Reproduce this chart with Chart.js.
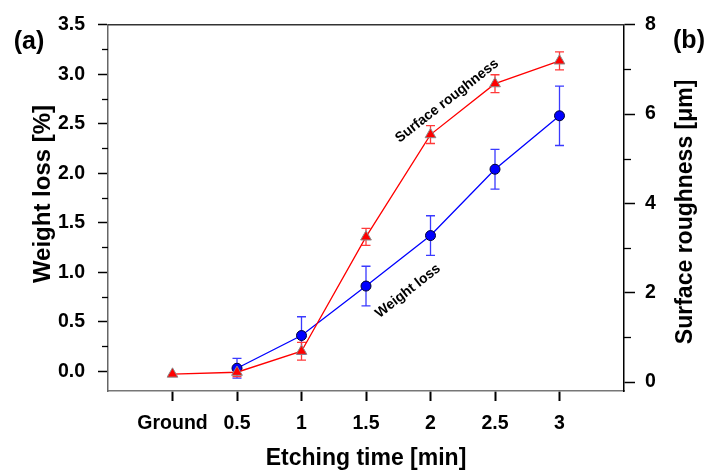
<!DOCTYPE html>
<html><head><meta charset="utf-8">
<script src="https://cdn.jsdelivr.net/npm/chart.js@4/dist/chart.umd.min.js"></script>
<style>html,body{margin:0;padding:0;background:#fff;}#wrap{width:707px;height:472px;}</style>
</head><body><div id="wrap"><canvas id="c" width="707" height="472"></canvas></div>
<script>
const categories = ['Ground', '0.5', '1', '1.5', '2', '2.5', '3'];
const weightLoss = [null, 0.03, 0.36, 0.86, 1.37, 2.04, 2.58];
const weightLossErr = [null, 0.10, 0.19, 0.20, 0.20, 0.20, 0.30];
const roughness = [0.18, 0.22, 0.69, 3.25, 5.54, 6.68, 7.19];
const roughnessErr = [0, 0.10, 0.20, 0.19, 0.20, 0.20, 0.20];
const leftTicks = [0, 0.5, 1, 1.5, 2, 2.5, 3, 3.5];
const leftMinorTicks = [0.25, 0.75, 1.25, 1.75, 2.25, 2.75, 3.25];
const rightTicks = [0, 2, 4, 6, 8];
const rightMinorTicks = [1, 3, 5, 7];

const FONT = '"Liberation Sans", Arial, sans-serif';
const tickFont = {family: FONT, size: 19.5, weight: 'bold'};

const toPoints = arr => arr.map((v, i) => ({x: i, y: v}));

const deco = {
  id: 'deco',
  beforeDatasetsDraw(chart) {
    const ctx = chart.ctx, xs = chart.scales.x;
    const drawErr = (vals, errs, scale, color) => {
      ctx.save();
      ctx.strokeStyle = color; ctx.lineWidth = 1.3;
      vals.forEach((v, i) => {
        if (v === null || !errs[i]) return;
        const px = xs.getPixelForValue(i);
        const top = scale.getPixelForValue(v + errs[i]);
        const bot = scale.getPixelForValue(v - errs[i]);
        ctx.beginPath();
        ctx.moveTo(px, top); ctx.lineTo(px, bot);
        ctx.moveTo(px - 4.5, top); ctx.lineTo(px + 4.5, top);
        ctx.moveTo(px - 4.5, bot); ctx.lineTo(px + 4.5, bot);
        ctx.stroke();
      });
      ctx.restore();
    };
    drawErr(weightLoss, weightLossErr, chart.scales.y, '#3a3aff');
    drawErr(roughness, roughnessErr, chart.scales.y2, '#ff3a3a');
  },
  afterDraw(chart) {
    const ctx = chart.ctx, a = chart.chartArea;
    const yl = chart.scales.y, yr = chart.scales.y2;
    ctx.save();
    ctx.strokeStyle = '#333'; ctx.lineWidth = 1.5;
    ctx.beginPath(); ctx.moveTo(a.left, a.top); ctx.lineTo(a.right, a.top); ctx.stroke();
    ctx.strokeStyle = '#000'; ctx.lineWidth = 1.3;
    leftMinorTicks.forEach(v => {
      const py = Math.round(yl.getPixelForValue(v)) + 0.5;
      ctx.beginPath(); ctx.moveTo(a.left - 6, py); ctx.lineTo(a.left, py); ctx.stroke();
    });
    rightMinorTicks.forEach(v => {
      const py = Math.round(yr.getPixelForValue(v)) + 0.5;
      ctx.beginPath(); ctx.moveTo(a.right, py); ctx.lineTo(a.right + 7, py); ctx.stroke();
    });
    ctx.fillStyle = '#000';
    ctx.textAlign = 'center'; ctx.textBaseline = 'middle';
    ctx.font = 'bold 23px ' + FONT;
    ctx.fillText('Etching time [min]', (a.left + a.right) / 2, 459);
    ctx.save(); ctx.translate(686, (a.top + a.bottom) / 2 + 4); ctx.rotate(-Math.PI / 2);
    ctx.fillText('Surface roughness [\u03bcm]', 0, 0); ctx.restore();
    ctx.font = 'bold 24px ' + FONT;
    ctx.save(); ctx.translate(43, 194); ctx.rotate(-Math.PI / 2);
    ctx.fillText('Weight loss [%]', 0, 0); ctx.restore();
    ctx.font = 'bold 25px ' + FONT;
    ctx.fillText('(a)', 29, 42);
    ctx.fillText('(b)', 689, 41);
    ctx.font = 'bold 14px ' + FONT;
    ctx.save(); ctx.translate(447, 101); ctx.rotate(-38 * Math.PI / 180);
    ctx.fillText('Surface roughness', 0, 0); ctx.restore();
    ctx.save(); ctx.translate(408, 291); ctx.rotate(-38 * Math.PI / 180);
    ctx.fillText('Weight loss', 0, 0); ctx.restore();
    ctx.restore();
  }
};

new Chart(document.getElementById('c'), {
  type: 'line',
  data: {
    datasets: [
      {
        label: 'Surface roughness', yAxisID: 'y2',
        data: toPoints(roughness),
        borderColor: '#ff0000', borderWidth: 1.3,
        pointStyle: 'triangle', pointRadius: 6.2,
        pointBackgroundColor: '#ff0000', pointBorderColor: '#8a8a8a', pointBorderWidth: 1,
        tension: 0, fill: false
      },
      {
        label: 'Weight loss', yAxisID: 'y',
        data: toPoints(weightLoss),
        borderColor: '#0000ff', borderWidth: 1.3,
        pointStyle: 'circle', pointRadius: 5,
        pointBackgroundColor: '#0000ff', pointBorderColor: '#000033', pointBorderWidth: 1,
        tension: 0, fill: false
      }
    ]
  },
  options: {
    responsive: false, animation: false, devicePixelRatio: 1,
    layout: {padding: {top: 23, left: 0, right: 0, bottom: 0}},
    plugins: {legend: {display: false}, tooltip: {enabled: false}},
    scales: {
      x: {
        type: 'linear', position: 'bottom', min: -1, max: 7,
        afterBuildTicks: s => { s.ticks = categories.map((_, i) => ({value: i})); },
        afterFit: s => { s.height = 81; },
        grid: {drawOnChartArea: false, drawTicks: true, tickLength: 10, tickWidth: 2, tickColor: '#000'},
        border: {color: '#777', width: 1.5},
        ticks: {font: tickFont, color: '#000', padding: 11, maxRotation: 0, autoSkip: false,
                callback: v => categories[v] !== undefined ? categories[v] : ''}
      },
      y: {
        type: 'linear', position: 'left', min: -0.2, max: 3.5,
        afterBuildTicks: s => { s.ticks = leftTicks.map(v => ({value: v})); },
        afterFit: s => { s.width = 108; },
        grid: {drawOnChartArea: false, drawTicks: true, tickLength: 10, tickWidth: 1.5, tickColor: '#000'},
        border: {color: '#666', width: 1.5},
        ticks: {font: tickFont, color: '#000', padding: 13, callback: v => Number(v).toFixed(1)}
      },
      y2: {
        type: 'linear', position: 'right', min: -0.2, max: 8,
        afterBuildTicks: s => { s.ticks = rightTicks.map(v => ({value: v})); },
        afterFit: s => { s.width = 83; },
        grid: {drawOnChartArea: false, drawTicks: true, tickLength: 11, tickWidth: 1.5, tickColor: '#000'},
        border: {color: '#000', width: 1.5},
        ticks: {font: tickFont, color: '#000', padding: 10, callback: v => String(v)}
      }
    }
  },
  plugins: [deco]
});
</script>
</body></html>
